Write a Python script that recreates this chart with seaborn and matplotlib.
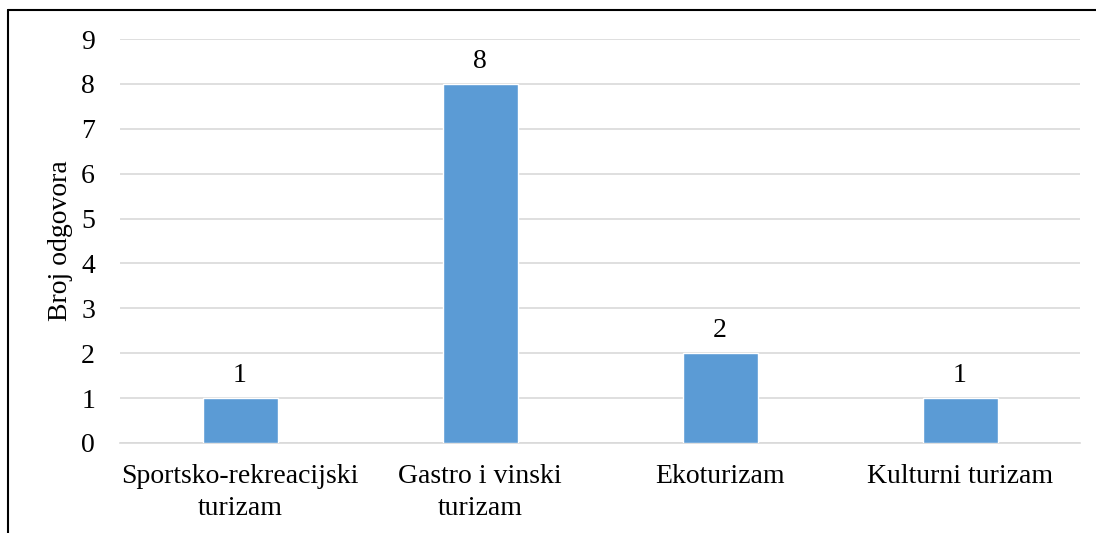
import matplotlib
matplotlib.use("Agg")
import matplotlib.pyplot as plt
from matplotlib.lines import Line2D
import seaborn as sns
import pandas as pd

categories = ["Sportsko-rekreacijski\nturizam", "Gastro i vinski\nturizam",
              "Ekoturizam", "Kulturni turizam"]
values = [1, 8, 2, 1]
y_ticks = list(range(0, 10))

sns.set_theme(style="white")
plt.rcParams["font.family"] = ["Liberation Serif", "DejaVu Serif"]

df = pd.DataFrame({"kategorija": categories, "broj": values})

fig = plt.figure(figsize=(10.96, 5.33), dpi=100)
ax = fig.add_axes([120 / 1096, 1 - 443 / 533, 960 / 1096, (443 - 39) / 533])

sns.barplot(data=df, x="kategorija", y="broj", color="#5B9BD5",
            width=0.3125, saturation=1, ax=ax, zorder=3)

ax.set_ylim(0, 9)
ax.set_xlim(-0.5, len(categories) - 0.5)
ax.set_yticks(y_ticks)
ax.yaxis.grid(True, color="#d9d9d9", linewidth=1.2, zorder=0)
ax.set_axisbelow(True)
for s in ["top", "right", "left"]:
    ax.spines[s].set_visible(False)
ax.spines["bottom"].set_color("#d9d9d9")
ax.spines["bottom"].set_linewidth(1.2)
ax.tick_params(axis="both", length=0, labelsize=20, colors="black")
ax.tick_params(axis="y", pad=18)
ax.tick_params(axis="x", pad=15)
for lbl in ax.get_xticklabels():
    lbl.set_linespacing(1.4)
ax.set_xlabel("")
ax.set_ylabel("Broj odgovora", fontsize=20, color="black", labelpad=6)

for i, v in enumerate(values):
    ax.text(i, v + 0.22, str(v), ha="center", va="bottom", fontsize=20, color="black")

# frame lines along the top and left edges
fig.add_artist(Line2D([8 / 1096, 1], [1 - 10 / 533, 1 - 10 / 533],
                      transform=fig.transFigure, color="black", linewidth=1.5))
fig.add_artist(Line2D([8 / 1096, 8 / 1096], [0, 1 - 10 / 533],
                      transform=fig.transFigure, color="black", linewidth=1.5))

fig.savefig("out.png", dpi=100)
